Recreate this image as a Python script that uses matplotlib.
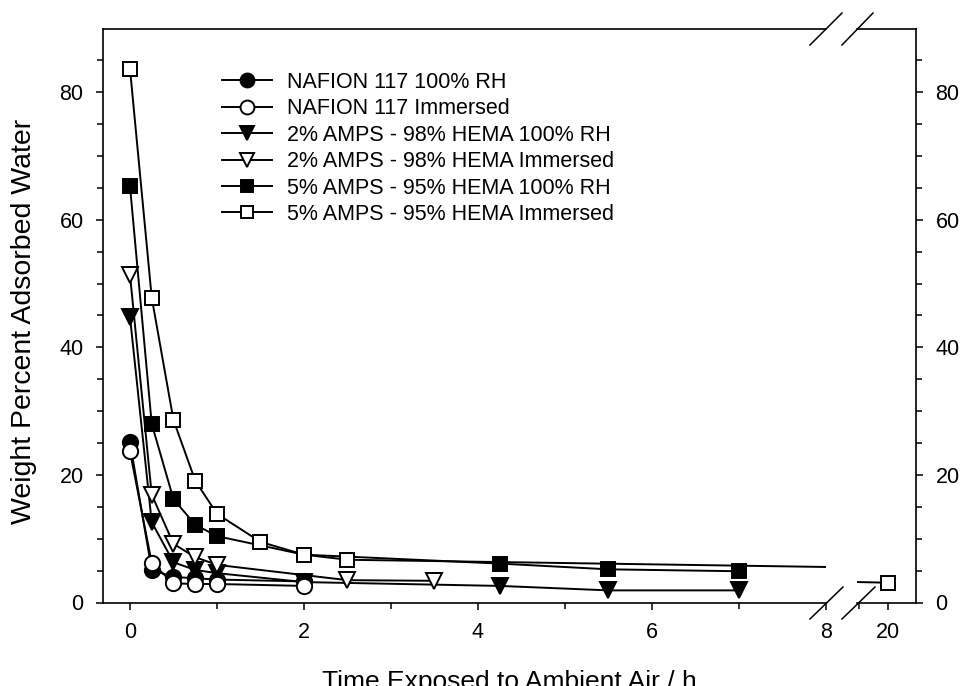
import matplotlib
matplotlib.use("Agg")
import matplotlib.pyplot as plt
from matplotlib.lines import Line2D
from matplotlib.ticker import MultipleLocator, FixedLocator

plt.rcParams['font.family'] = ['Liberation Sans', 'DejaVu Sans']

# ---- data ----
naf_rh_x = [0, 0.25, 0.5, 0.75, 1, 2]
naf_rh_y = [25.1, 5.1, 4.0, 3.8, 3.6, 3.3]

naf_im_x = [0, 0.25, 0.5, 0.75, 1, 2]
naf_im_y = [23.7, 6.2, 3.0, 2.9, 2.9, 2.6]

a2_rh_x = [0, 0.25, 0.5, 0.75, 1, 2, 4.25, 5.5, 7]
a2_rh_y = [44.8, 12.6, 6.3, 5.1, 4.6, 3.2, 2.6, 1.9, 1.9]

a2_im_x = [0, 0.25, 0.5, 0.75, 1, 2.5, 3.5]
a2_im_y = [51.4, 16.9, 9.2, 7.1, 5.9, 3.5, 3.4]

a5_rh_x = [0, 0.25, 0.5, 0.75, 1, 2, 4.25, 5.5, 7]
a5_rh_y = [65.3, 28.0, 16.2, 12.2, 10.4, 7.5, 6.1, 5.2, 4.9]

a5_im_x = [0, 0.25, 0.5, 0.75, 1, 1.5, 2, 2.5, 20]
a5_im_y = [83.7, 47.8, 28.6, 19.1, 13.9, 9.5, 7.5, 6.7, 3.1]

labels = ["NAFION 117 100% RH", "NAFION 117 Immersed",
          "2% AMPS - 98% HEMA 100% RH", "2% AMPS - 98% HEMA Immersed",
          "5% AMPS - 95% HEMA 100% RH", "5% AMPS - 95% HEMA Immersed"]

x_ticks_left = [0, 2, 4, 6, 8]
x_ticks_right = [20]
y_ticks = [0, 20, 40, 60, 80]

series = [
    (naf_rh_x, naf_rh_y, 'o', 'black', 11, 5),
    (naf_im_x, naf_im_y, 'o', 'white', 11, 6),
    (a2_rh_x, a2_rh_y, 'v', 'black', 11.5, 2),
    (a2_im_x, a2_im_y, 'v', 'white', 11.5, 2.5),
    (a5_rh_x, a5_rh_y, 's', 'black', 10, 3),
    (a5_im_x, a5_im_y, 's', 'white', 10, 4),
]

W, H = 960, 686
fig = plt.figure(figsize=(9.6, 6.86), dpi=100)

def fx(px):
    return px / W

def fy(py):
    return 1 - py / H

top_px, bot_px = 29, 602.5
axL = fig.add_axes([fx(103), fy(bot_px), fx(826) - fx(103), (bot_px - top_px) / H])
axR = fig.add_axes([fx(857), fy(bot_px), fx(916) - fx(857), (bot_px - top_px) / H])

for ax in (axL, axR):
    for (xs, ys, m, fc, ms, z) in series:
        ax.plot(xs, ys, color='black', lw=1.4, marker=m, markersize=ms,
                markerfacecolor=fc, markeredgecolor='black', markeredgewidth=1.4,
                zorder=z)
    ax.set_ylim(0, 89.9)
    ax.yaxis.set_major_locator(FixedLocator(y_ticks))
    ax.yaxis.set_minor_locator(MultipleLocator(5))
    ax.tick_params(which='both', direction='out', labelsize=15.5, width=1.1, pad=9)
    ax.tick_params(which='major', length=5)
    ax.tick_params(which='minor', length=4)
    for s in ax.spines.values():
        s.set_linewidth(1.2)

axL.set_xlim(-0.31, 8.0)
axL.xaxis.set_major_locator(FixedLocator(x_ticks_left))
axL.xaxis.set_minor_locator(MultipleLocator(1))
axL.spines['right'].set_visible(False)
axL.yaxis.set_ticks_position('left')

axR.set_xlim(19.466, 20.483)
axR.xaxis.set_major_locator(FixedLocator(x_ticks_right))
axR.xaxis.set_minor_locator(FixedLocator([19.5]))
axR.spines['left'].set_visible(False)
axR.yaxis.set_ticks_position('right')
axR.yaxis.set_label_position('right')

# axis break marks
for (x0, y0, x1, y1) in [(810, 619, 843, 587), (842, 619, 875, 587),
                         (810, 45, 842, 13), (842, 45, 873, 13)]:
    fig.add_artist(Line2D([fx(x0), fx(x1)], [fy(y0), fy(y1)], color='black',
                          lw=1.1, transform=fig.transFigure))

# legend
handles = []
for (xs, ys, m, fc, ms, z) in series:
    handles.append(Line2D([], [], color='black', lw=1.4, marker=m, markersize=ms - 1,
                          markerfacecolor=fc, markeredgecolor='black', markeredgewidth=1.4))
axL.legend(handles, labels, loc='upper left', bbox_to_anchor=(fx(222), fy(72)),
           bbox_transform=fig.transFigure, frameon=False, fontsize=15.5,
           handlelength=2.32, handletextpad=0.7, labelspacing=0.25, borderpad=0,
           borderaxespad=0)

fig.text(fx(509), fy(689), "Time Exposed to Ambient Air / h", ha='center', va='baseline',
         fontsize=19)
fig.text(fx(24), fy(321), "Weight Percent Adsorbed Water", ha='center', va='center',
         rotation=90, fontsize=20.5)

fig.savefig("out.png", dpi=100)
